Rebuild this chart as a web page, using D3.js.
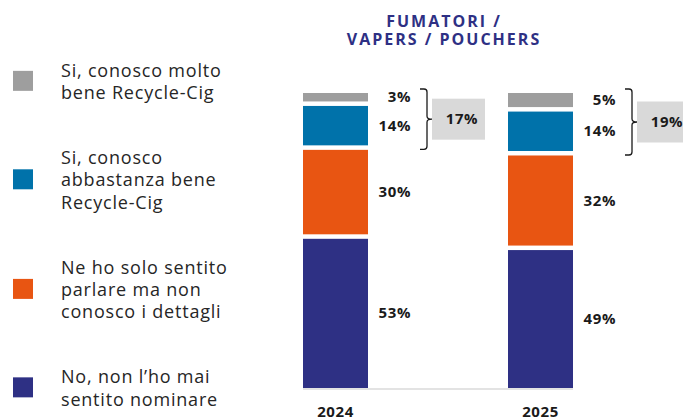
<!DOCTYPE html>
<html>
<head>
<meta charset="utf-8">
<script src="https://cdn.jsdelivr.net/npm/d3@7"></script>
<style>
  html, body { margin: 0; padding: 0; background: #fff; }
  svg { display: block; font-family: "Open Sans", "Noto Sans", sans-serif; }
</style>
</head>
<body>
<svg id="chart" width="683" height="419"></svg>
<script>
// dati: dal basso verso l'alto nello stack
const years = ["2024", "2025"];
const categories = [
  "No, non l’ho mai sentito nominare",
  "Ne ho solo sentito parlare ma non conosco i dettagli",
  "Si, conosco abbastanza bene Recycle-Cig",
  "Si, conosco molto bene Recycle-Cig"
];
const values2024 = [53, 30, 14, 3];
const values2025 = [49, 32, 14, 5];
const colors = ["#2e3084", "#e85512", "#0072aa", "#9e9e9e"];

// legenda (ordine dall'alto)
const legendLines = [
  ["Si, conosco molto", "bene Recycle-Cig"],
  ["Si, conosco", "abbastanza bene", "Recycle-Cig"],
  ["Ne ho solo sentito", "parlare ma non", "conosco i dettagli"],
  ["No, non l’ho mai", "sentito nominare"]
];
const legendColors = ["#9e9e9e", "#0072aa", "#e85512", "#2e3084"];
const titleLines = ["FUMATORI /", "VAPERS / POUCHERS"];

const svg = d3.select("#chart");
const baseY = 388, topY = 93, gap = 4.5;

const x = d3.scaleBand().domain(years).range([303, 573]).paddingInner(140 / 205);
const h = d3.scaleLinear().domain([0, 100]).range([0, (baseY - topY) - 3 * gap]);

const series = { "2024": values2024, "2025": values2025 };

// titolo
svg.append("text")
  .attr("x", 444).attr("y", 27)
  .attr("text-anchor", "middle")
  .attr("fill", "#2e3084")
  .attr("font-weight", 700)
  .attr("font-size", 16)
  .attr("letter-spacing", 2)
  .selectAll("tspan").data(titleLines).join("tspan")
  .attr("x", 444).attr("dy", (d, i) => i ? 18.4 : 0)
  .text(d => d);

// linea di base
svg.append("line")
  .attr("x1", x("2024")).attr("x2", x("2025") + x.bandwidth())
  .attr("y1", baseY + 1).attr("y2", baseY + 1)
  .attr("stroke", "#e3e3e3").attr("stroke-width", 2);

const numFont = sel => sel
  .attr("font-weight", 700)
  .attr("font-size", 15)
  .attr("letter-spacing", 0.6)
  .attr("fill", "#1a1a1a");

years.forEach(year => {
  const vals = series[year];
  let cum = 0;
  const segs = vals.map((v, i) => {
    const y0 = baseY - h(cum) - i * gap;
    const y1 = y0 - h(v);
    cum += v;
    return { v, i, y0, y1 };
  });

  const g = svg.append("g");
  g.selectAll("rect").data(segs).join("rect")
    .attr("x", x(year))
    .attr("width", x.bandwidth())
    .attr("y", d => d.y1)
    .attr("height", d => d.y0 - d.y1)
    .attr("fill", d => colors[d.i]);

  g.selectAll("text.val").data(segs).join("text")
    .attr("class", "val")
    .attr("x", x(year) + x.bandwidth() + 43)
    .attr("y", d => (d.y0 + d.y1) / 2 + 5)
    .attr("text-anchor", "end")
    .call(numFont)
    .text(d => d.v + "%");

  // parentesi graffa per le due categorie "Si"
  const bTop = segs[3].y1 - 4, bBot = segs[2].y0 + 4;
  const mid = (bTop + bBot) / 2;
  const bx = x(year) + x.bandwidth() + 59;
  const r = 3;
  g.append("path")
    .attr("d", `M${bx - 7},${bTop} H${bx - r} Q${bx},${bTop} ${bx},${bTop + r}
      V${mid - r} Q${bx},${mid} ${bx + 5},${mid} Q${bx},${mid} ${bx},${mid + r}
      V${bBot - r} Q${bx},${bBot} ${bx - r},${bBot} H${bx - 7}`)
    .attr("fill", "none").attr("stroke", "#1a1a1a").attr("stroke-width", 1.3);

  g.append("rect")
    .attr("x", bx + 5).attr("y", mid - 20.5)
    .attr("width", 53).attr("height", 41)
    .attr("fill", "#d9d9d9");
  g.append("text")
    .attr("x", bx + 35).attr("y", mid + 5)
    .attr("text-anchor", "middle")
    .call(numFont)
    .text((vals[2] + vals[3]) + "%");

  // anno
  svg.append("text")
    .attr("x", x(year) + x.bandwidth() / 2).attr("y", 417)
    .attr("text-anchor", "middle")
    .call(numFont)
    .text(year);
});

// legenda
const lineH = 22.3, blockGap = 65;
let yCur = 76.7;
legendLines.forEach((lines, k) => {
  const first = yCur, last = yCur + (lines.length - 1) * lineH;
  const cy = (first + last) / 2 - 7;
  svg.append("rect")
    .attr("x", 13).attr("y", cy - 10)
    .attr("width", 20).attr("height", 20)
    .attr("fill", legendColors[k]);
  svg.append("text")
    .attr("font-size", 18).attr("letter-spacing", 0.8).attr("fill", "#262626")
    .selectAll("tspan").data(lines).join("tspan")
    .attr("x", 61).attr("y", (d, i) => first + i * lineH)
    .text(d => d);
  yCur = last + blockGap;
});
</script>
</body>
</html>
